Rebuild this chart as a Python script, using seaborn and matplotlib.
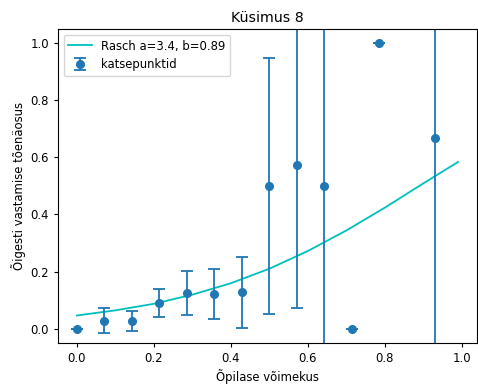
import matplotlib
matplotlib.use("Agg")
import matplotlib.pyplot as plt
import seaborn as sns
import pandas as pd

# Rasch model curve
curve_x = [0.0, 0.1, 0.2, 0.3, 0.4, 0.5, 0.6, 0.7, 0.8, 0.9, 0.99]
curve_y = [0.046, 0.064, 0.087, 0.119, 0.159, 0.210, 0.272, 0.344, 0.424, 0.509, 0.584]

# Experimental points
pts_x = [0.0, 0.071, 0.143, 0.214, 0.286, 0.357, 0.429, 0.5, 0.571, 0.643, 0.714, 0.786, 0.929]
pts_y = [0.0, 0.028, 0.028, 0.090, 0.126, 0.121, 0.127, 0.5, 0.573, 0.5, 0.0, 1.0, 0.667]
pts_err = [0.0, 0.043, 0.035, 0.050, 0.077, 0.088, 0.125, 0.45, 0.50, 0.65, 0.0, 0.0, 0.75]

title = "Küsimus 8"
xlabel = "Õpilase võimekus"
ylabel = "Õigesti vastamise tõenäosus"
curve_label = "Rasch a=3.4, b=0.89"
pts_label = "katsepunktid"

plt.rcParams['font.family'] = ['DejaVu Sans']
fs = 8.4

fig = plt.figure(figsize=(4.78, 3.87), dpi=100)
ax = fig.add_axes([0.121, 0.114, 0.877, 0.811])

df = pd.DataFrame({"x": curve_x, "y": curve_y})
sns.lineplot(data=df, x="x", y="y", ax=ax, color="c", label=curve_label, linewidth=1.3)
ax.errorbar(pts_x, pts_y, yerr=pts_err, fmt="o", color="C0", capsize=4.5,
            markersize=5.5, elinewidth=1.3, capthick=1.3, label=pts_label)

ax.set_xlim(-0.0495, 1.0395)
ax.set_ylim(-0.05, 1.05)
ax.set_title(title, fontsize=10.2, pad=5)
ax.set_xlabel(xlabel, fontsize=fs, labelpad=3)
ax.set_ylabel(ylabel, fontsize=fs, labelpad=3)
ax.tick_params(labelsize=fs, length=3)
ax.legend(loc="upper left", fontsize=fs)

fig.savefig("out.png", dpi=100)
